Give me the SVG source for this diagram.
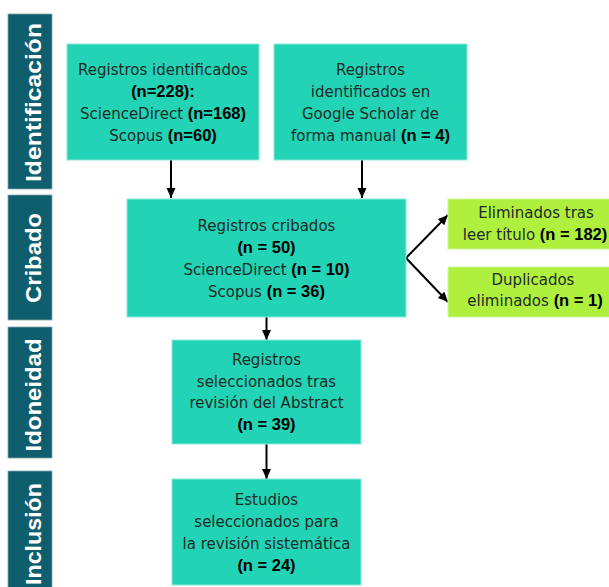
<svg xmlns="http://www.w3.org/2000/svg" width="609" height="587" viewBox="0 0 609 587">
<style>
.bar{fill:#0f5e6d;stroke:#7fa6ad;stroke-width:0.8}
.lbl{font-family:"Liberation Sans",Arial,sans-serif;font-weight:bold;font-size:22px;fill:#ffffff;text-anchor:middle}
.box{fill:#22d3b5;stroke:#8be8d7;stroke-width:1}
.gbox{fill:#aef03d;stroke:#d2f79a;stroke-width:1}
.t{font-family:"DejaVu Sans",sans-serif;font-size:15px;fill:#1e2b28;text-anchor:middle}
.b{font-family:"Liberation Sans",Arial,sans-serif;font-size:16.5px;font-weight:bold;fill:#000}
.c{stroke:#000;stroke-width:2;fill:none;marker-end:url(#ah)}
</style>
<defs>
<marker id="ah" markerUnits="userSpaceOnUse" markerWidth="10" markerHeight="10" viewBox="0 0 10 10" refX="10" refY="5" orient="auto">
<path d="M0,0.5 L10,5 L0,9.5 z" fill="#000"/>
</marker>
</defs>
<rect width="609" height="587" fill="#ffffff"/>

<g id="stage-identificacion">
<rect class="bar" x="8" y="14" width="44" height="175"/>
<text class="lbl" transform="translate(41,102.5) rotate(-90)" textLength="159" lengthAdjust="spacingAndGlyphs">Identificación</text>
</g>
<g id="stage-cribado">
<rect class="bar" x="8" y="195" width="44" height="125"/>
<text class="lbl" transform="translate(41,258) rotate(-90)" textLength="90" lengthAdjust="spacingAndGlyphs">Cribado</text>
</g>
<g id="stage-idoneidad">
<rect class="bar" x="8" y="327" width="44" height="131"/>
<text class="lbl" transform="translate(41,395) rotate(-90)" textLength="113" lengthAdjust="spacingAndGlyphs">Idoneidad</text>
</g>
<g id="stage-inclusion">
<rect class="bar" x="8" y="471" width="44" height="120"/>
<text class="lbl" transform="translate(41,534) rotate(-90)" textLength="102" lengthAdjust="spacingAndGlyphs">Inclusión</text>
</g>

<g id="connectors">
<line class="c" x1="171" y1="160" x2="171" y2="198"/>
<line class="c" x1="362" y1="160" x2="362" y2="198"/>
<line class="c" x1="406" y1="258" x2="448" y2="215"/>
<line class="c" x1="406" y1="258" x2="448" y2="302"/>
<line class="c" x1="266.5" y1="317" x2="266.5" y2="340"/>
<line class="c" x1="266.5" y1="444" x2="266.5" y2="479"/>
</g>

<g id="identified-db">
<rect class="box" x="67" y="44" width="192" height="116"/>
<text class="t" x="163" y="75">Registros identificados</text>
<text class="t" x="163" y="97"><tspan class="b">(n=228):</tspan></text>
<text class="t" x="163" y="119">ScienceDirect <tspan class="b">(n=168)</tspan></text>
<text class="t" x="163" y="141">Scopus <tspan class="b">(n=60)</tspan></text>
</g>

<g id="identified-scholar">
<rect class="box" x="274" y="44" width="193" height="116"/>
<text class="t" x="370.5" y="75">Registros</text>
<text class="t" x="370.5" y="97">identificados en</text>
<text class="t" x="370.5" y="119">Google Scholar de</text>
<text class="t" x="370.5" y="141">forma manual <tspan class="b">(n = 4)</tspan></text>
</g>

<g id="screened">
<rect class="box" x="127" y="199" width="279" height="118"/>
<text class="t" x="266.5" y="231">Registros cribados</text>
<text class="t" x="266.5" y="253"><tspan class="b">(n = 50)</tspan></text>
<text class="t" x="266.5" y="275">ScienceDirect <tspan class="b">(n = 10)</tspan></text>
<text class="t" x="266.5" y="297">Scopus <tspan class="b">(n = 36)</tspan></text>
</g>

<g id="excluded-title">
<rect class="gbox" x="448" y="199" width="170" height="50"/>
<text class="t" x="536" y="218">Eliminados tras</text>
<text class="t" x="535" y="240">leer título <tspan class="b">(n = 182)</tspan></text>
</g>

<g id="duplicates">
<rect class="gbox" x="448" y="267" width="170" height="50"/>
<text class="t" x="533" y="285">Duplicados</text>
<text class="t" x="535" y="306">eliminados <tspan class="b">(n = 1)</tspan></text>
</g>

<g id="selected-abstract">
<rect class="box" x="172" y="340" width="189" height="104"/>
<text class="t" x="266.5" y="365">Registros</text>
<text class="t" x="266.5" y="387">seleccionados tras</text>
<text class="t" x="266.5" y="408">revisión del Abstract</text>
<text class="t" x="266.5" y="430"><tspan class="b">(n = 39)</tspan></text>
</g>

<g id="included">
<rect class="box" x="172" y="479" width="189" height="106"/>
<text class="t" x="266.5" y="505">Estudios</text>
<text class="t" x="266.5" y="527">seleccionados para</text>
<text class="t" x="266.5" y="549">la revisión sistemática</text>
<text class="t" x="266.5" y="571"><tspan class="b">(n = 24)</tspan></text>
</g>
</svg>
